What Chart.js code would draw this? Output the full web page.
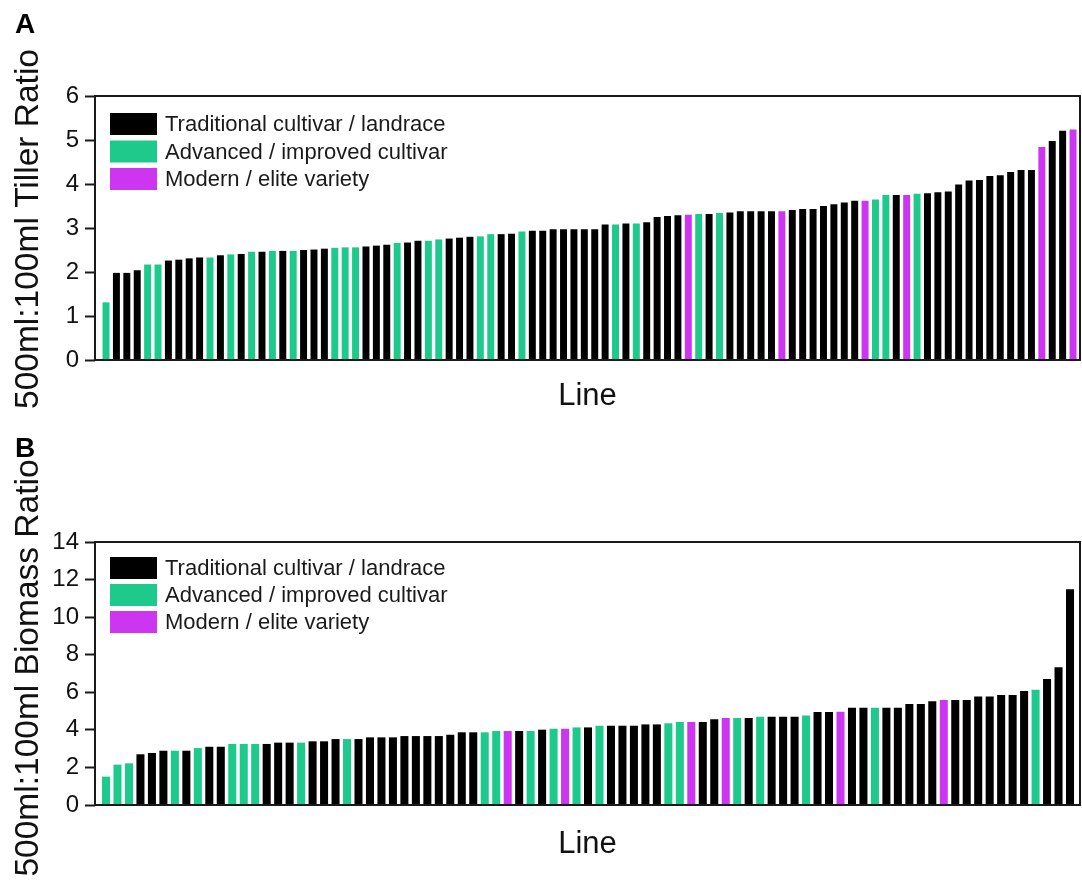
<!DOCTYPE html>
<html>
<head>
<meta charset="utf-8">
<script src="https://cdn.jsdelivr.net/npm/chart.js@4.4.0/dist/chart.umd.min.js"></script>
<style>
  html, body { margin: 0; padding: 0; background: #fff; }
  body { width: 1082px; height: 881px; position: relative; overflow: hidden; }
  canvas { position: absolute; left: 0; }
  #chartA { top: 0; }
  #chartB { top: 420px; }
</style>
</head>
<body>
<canvas id="chartA" width="1082" height="420"></canvas>
<canvas id="chartB" width="1082" height="461"></canvas>
<script>
'use strict';

// line types: T = traditional, A = advanced, M = modern
const groupCodes = ['T', 'A', 'M'];
const groupNames = ['Traditional cultivar / landrace', 'Advanced / improved cultivar', 'Modern / elite variety'];
const groupColors = ['#000000', '#1dca8c', '#cc36f0'];

// A: 500ml:100ml tiller ratio, lines sorted low to high
const tillerTicks = [0, 1, 2, 3, 4, 5, 6];
const tillerValues = [
  1.31, 1.98, 1.98, 2.04, 2.17, 2.17, 2.26, 2.28, 2.31, 2.33,
  2.33, 2.38, 2.40, 2.41, 2.46, 2.46, 2.48, 2.48, 2.48, 2.50,
  2.51, 2.53, 2.55, 2.56, 2.56, 2.58, 2.60, 2.62, 2.66, 2.67,
  2.71, 2.71, 2.74, 2.76, 2.78, 2.80, 2.81, 2.86, 2.86, 2.87,
  2.92, 2.94, 2.94, 2.97, 2.97, 2.97, 2.97, 2.97, 3.08, 3.08,
  3.10, 3.10, 3.13, 3.25, 3.27, 3.29, 3.30, 3.32, 3.32, 3.34,
  3.35, 3.38, 3.38, 3.38, 3.38, 3.38, 3.41, 3.43, 3.43, 3.50,
  3.54, 3.58, 3.62, 3.62, 3.65, 3.75, 3.75, 3.75, 3.78, 3.79,
  3.81, 3.83, 3.99, 4.08, 4.09, 4.18, 4.20, 4.27, 4.32, 4.32,
  4.84, 4.98, 5.21, 5.24
];
const tillerGroups = (
  'ATTTAATTTT' + 'ATATATATAT' + 'TTAAATTTAT' + 'TAATTTAATT' + 'ATTTTTTTTA' +
  'TATTTTMATA' + 'TTTTTMTTTT' + 'TTTMAATMAT' + 'TTTTTTTTTT' + 'MTTM'
).split('');

// B: 500ml:100ml biomass ratio
const biomassTicks = [0, 2, 4, 6, 8, 10, 12, 14];
const biomassValues = [
  1.51, 2.15, 2.22, 2.70, 2.77, 2.89, 2.89, 2.89, 3.03, 3.10,
  3.10, 3.25, 3.25, 3.25, 3.25, 3.32, 3.32, 3.32, 3.39, 3.39,
  3.51, 3.51, 3.51, 3.60, 3.60, 3.60, 3.67, 3.67, 3.67, 3.67,
  3.74, 3.87, 3.87, 3.87, 3.94, 3.94, 3.94, 3.94, 4.01, 4.06,
  4.06, 4.13, 4.13, 4.22, 4.22, 4.22, 4.22, 4.29, 4.29, 4.35,
  4.42, 4.42, 4.42, 4.56, 4.63, 4.63, 4.63, 4.70, 4.70, 4.70,
  4.70, 4.77, 4.95, 4.95, 4.97, 5.18, 5.18, 5.18, 5.18, 5.18,
  5.38, 5.38, 5.52, 5.59, 5.59, 5.59, 5.78, 5.78, 5.85, 5.85,
  6.07, 6.14, 6.71, 7.33, 11.48
];
const biomassGroups = (
  'AAATTTATAT' + 'TAAATTTATT' + 'TATTTTTTTT' + 'TTTAAMTATA' + 'MATATTTTTA' +
  'AMTTMATATT' + 'TATTMTTATT' + 'TTTMTTTTTT' + 'TATTT'
).split('');

const FONT = '"Liberation Sans", Arial, sans-serif';
Chart.defaults.font.family = FONT;
Chart.defaults.color = '#111';

// box round the plot, legend inside it, panel letter and rotated y title
const panelDecor = {
  id: 'panelDecor',
  afterDatasetsDraw(chart, args, opts) {
    const ctx = chart.ctx;
    const a = chart.chartArea;
    ctx.save();
    ctx.strokeStyle = '#1a1a1a';
    ctx.lineWidth = 2;
    ctx.strokeRect(a.left, a.top, a.right - a.left, a.bottom - a.top);

    ctx.font = '22px ' + FONT;
    ctx.textAlign = 'left';
    ctx.textBaseline = 'middle';
    chart.data.datasets.forEach((ds, i) => {
      const y = a.top + opts.legendTop + i * opts.legendStep;
      ctx.fillStyle = ds.backgroundColor;
      ctx.fillRect(a.left + 15, y, 47, 22);
      ctx.fillStyle = '#1a1a1a';
      ctx.fillText(ds.label, a.left + 70, y + 12);
    });

    ctx.fillStyle = '#000';
    ctx.textBaseline = 'alphabetic';
    ctx.font = 'bold 28px ' + FONT;
    ctx.fillText(opts.letter, 15, opts.letterY);

    ctx.translate(38, opts.titleY);
    ctx.rotate(-Math.PI / 2);
    ctx.textAlign = 'center';
    ctx.font = '33.5px ' + FONT;
    ctx.fillStyle = '#111';
    ctx.fillText(opts.yTitle, 0, 0);
    ctx.restore();
  }
};

function makePanel(id, values, groups, ticks, cfg) {
  const datasets = groupCodes.map((code, g) => ({
    label: groupNames[g],
    backgroundColor: groupColors[g],
    data: values.map((v, i) => ({ x: i + 1, y: v })).filter((p, i) => groups[i] === code),
    grouped: false,
    barPercentage: cfg.barPct,
    categoryPercentage: 1.0
  }));

  new Chart(document.getElementById(id), {
    type: 'bar',
    data: { datasets: datasets },
    plugins: [panelDecor],
    options: {
      responsive: false,
      animation: false,
      events: [],
      layout: { padding: { top: cfg.top, right: 2, left: 0, bottom: 0 } },
      plugins: {
        legend: { display: false },
        tooltip: { enabled: false },
        panelDecor: cfg.decor
      },
      scales: {
        x: {
          type: 'linear',
          offset: false,
          min: cfg.xMin,
          max: cfg.xMax,
          ticks: { display: false },
          grid: { display: false, offset: false },
          border: { display: false },
          title: {
            display: true,
            text: 'Line',
            color: '#111',
            font: { size: 31 },
            padding: { top: 0, bottom: cfg.linePad }
          },
          afterFit: (scale) => { scale.height = cfg.xHeight; }
        },
        y: {
          min: ticks[0],
          max: ticks[ticks.length - 1],
          afterBuildTicks: (scale) => { scale.ticks = ticks.map(v => ({ value: v })); },
          ticks: { font: { size: 24 }, color: '#111', padding: 6 },
          grid: {
            drawOnChartArea: false,
            drawTicks: true,
            tickLength: 10,
            tickWidth: 2,
            tickColor: '#1a1a1a'
          },
          border: { display: false },
          afterFit: (scale) => { scale.width = 95; }
        }
      }
    }
  });
}

makePanel('chartA', tillerValues, tillerGroups, tillerTicks, {
  top: 96, xHeight: 60, linePad: 5, barPct: 0.67,
  xMin: -0.06, xMax: 94.67,
  decor: { letter: 'A', letterY: 33, yTitle: '500ml:100ml Tiller Ratio', titleY: 229, legendTop: 17, legendStep: 27.5 }
});

makePanel('chartB', biomassValues, biomassGroups, biomassTicks, {
  top: 122, xHeight: 76, linePad: 18, barPct: 0.7,
  xMin: 0.04, xMax: 85.87,
  decor: { letter: 'B', letterY: 37, yTitle: '500ml:100ml Biomass Ratio', titleY: 248, legendTop: 15, legendStep: 27 }
});
</script>
</body>
</html>
